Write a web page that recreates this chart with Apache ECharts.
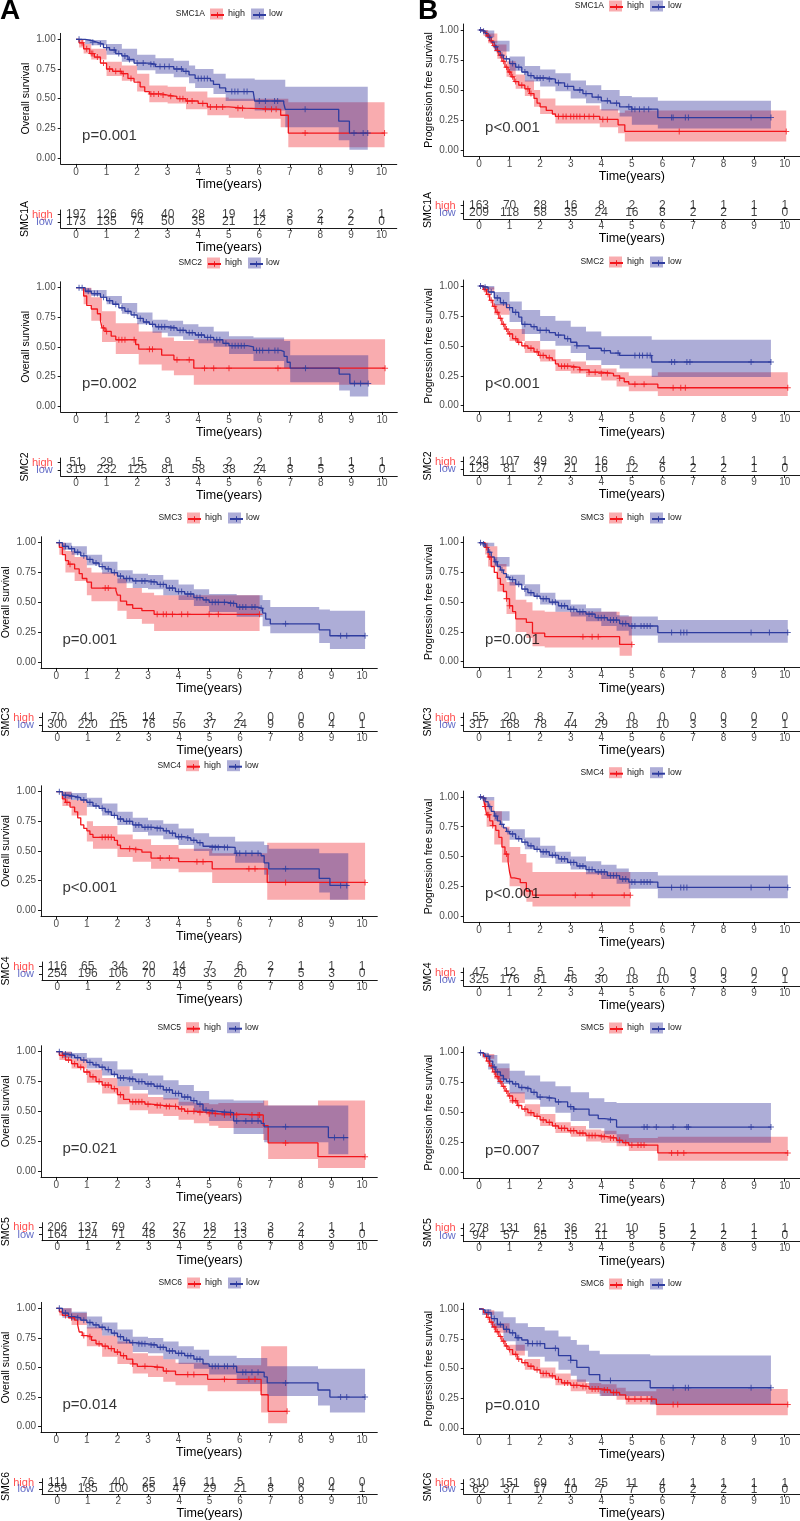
<!DOCTYPE html>
<html><head><meta charset="utf-8">
<script src="https://cdn.jsdelivr.net/npm/echarts@6/dist/echarts.min.js"></script>
<style>html,body{margin:0;padding:0;background:#fff}#c{width:800px;height:1521px}</style>
</head><body><div id="c"></div>
<script>
// ---------------- DATA ----------------
const genes = ['SMC1A','SMC2','SMC3','SMC4','SMC5','SMC6'];
const strata = ['high','low'];
const timeTicks = [0,1,2,3,4,5,6,7,8,9,10];
const survTicks = [0,0.25,0.5,0.75,1];
const pvalOS  = ['p=0.001','p=0.002','p=0.001','p<0.001','p=0.021','p=0.014'];
const pvalPFS = ['p<0.001','p<0.001','p=0.001','p<0.001','p=0.007','p=0.010'];

const riskOSHigh = [[197,126,66,40,28,19,14,3,2,2,1],[51,29,15,9,5,2,2,1,1,1,1],[70,41,25,14,7,3,2,0,0,0,0],[116,65,34,20,14,7,6,2,1,1,1],[206,137,69,42,27,18,13,3,2,1,1],[111,76,40,25,16,11,5,1,0,0,0]];
const riskOSLow  = [[173,135,74,50,35,21,12,6,4,2,0],[319,232,125,81,58,38,24,8,5,3,0],[300,220,115,76,56,37,24,9,6,4,1],[254,196,106,70,49,33,20,7,5,3,0],[164,124,71,48,36,22,13,6,4,3,0],[259,185,100,65,47,29,21,8,6,4,1]];
const riskPFSHigh = [[163,70,28,16,8,2,2,1,1,1,1],[243,107,49,30,16,6,4,1,1,1,1],[55,20,8,7,3,0,0,0,0,0,0],[47,12,5,5,2,0,0,0,0,0,0],[278,131,61,36,21,10,5,1,1,1,1],[310,151,69,41,25,11,4,1,1,1,1]];
const riskPFSLow  = [[209,118,58,35,24,16,8,2,2,1,0],[129,81,37,21,16,12,6,2,2,1,0],[317,168,78,44,29,18,10,3,3,2,1],[325,176,81,46,30,18,10,3,3,2,1],[94,57,25,15,11,8,5,2,2,1,0],[62,37,17,10,7,7,6,2,2,1,0]];

// ---- OS SMC1A
const os_smc1a_high = [[0,1],[0.1,.97],[0.25,.92],[0.45,.88],[0.6,.85],[0.8,.80],[1.0,.75],[1.2,.73],[1.5,.71],[1.7,.67],[1.9,.64],[2.1,.60],[2.25,.56],[2.4,.54],[2.8,.53],[3.0,.52],[3.3,.50],[3.6,.48],[4.0,.46],[4.3,.43],[5.0,.42],[5.5,.41],[6.7,.36],[6.95,.21],[10.1,.21]];
const os_smc1a_high_ci = [[0,1,1],[0.1,.93,1],[0.25,.88,.96],[0.5,.83,.92],[1.0,.69,.81],[1.5,.65,.78],[2.0,.56,.71],[2.4,.47,.61],[3.0,.46,.60],[3.6,.41,.56],[4.3,.36,.51],[5.0,.34,.50],[5.5,.33,.50],[6.7,.26,.50],[6.95,.09,.47],[10.1,.09,.47]];
const os_smc1a_high_cens = [0.2,0.35,0.5,0.55,0.7,0.9,1.1,1.3,1.45,1.55,1.8,2.45,2.55,2.7,2.85,3.1,3.4,3.5,3.65,3.8,4.15,4.4,4.6,4.8,5.3,5.45,6.2,6.4,6.55,7.5,10.1];
const os_smc1a_low = [[0,1],[0.3,.99],[0.5,.975],[0.7,.96],[0.9,.93],[1.1,.91],[1.3,.88],[1.5,.86],[1.7,.83],[1.9,.80],[2.4,.79],[2.6,.77],[3.2,.75],[3.5,.73],[3.7,.70],[3.9,.67],[4.4,.65],[4.5,.62],[4.7,.59],[4.9,.56],[5.8,.545],[5.85,.48],[6.8,.46],[6.85,.41],[8.6,.31],[8.95,.21],[9.55,.21]];
const os_smc1a_low_ci = [[0,1,1],[0.3,.96,1],[0.5,.95,.995],[1.0,.87,.96],[1.5,.81,.92],[2.0,.74,.87],[2.6,.71,.84],[3.2,.68,.82],[3.7,.63,.78],[3.9,.59,.75],[4.5,.54,.71],[4.9,.48,.67],[5.85,.40,.66],[6.85,.26,.60],[8.6,.15,.60],[8.95,.07,.60],[9.55,.07,.60]];
const os_smc1a_low_cens = [0.1,0.55,0.8,1.0,1.25,1.4,1.6,1.75,2.0,2.2,2.45,2.55,2.75,2.9,3.05,3.3,3.45,3.6,4.0,4.1,4.2,4.3,5.1,5.2,5.3,5.5,5.6,6.0,6.2,6.5,6.6,7.5,9.1,9.4,9.55];

// ---- PFS SMC1A
const pfs_smc1a_high = [[0,1],[0.15,.98],[0.25,.95],[0.35,.91],[0.45,.87],[0.55,.83],[0.65,.79],[0.75,.74],[0.85,.69],[0.95,.65],[1.05,.61],[1.15,.57],[1.3,.54],[1.5,.51],[1.65,.47],[1.8,.43],[1.9,.39],[2.0,.36],[2.2,.33],[2.4,.30],[2.5,.28],[3.95,.255],[4.55,.21],[4.77,.155],[10.05,.155]];
const pfs_smc1a_high_ci = [[0,1,1],[0.15,.95,1],[0.3,.89,.97],[0.6,.76,.88],[0.9,.61,.74],[1.2,.51,.63],[1.5,.45,.58],[1.8,.36,.50],[2.0,.30,.43],[2.5,.22,.37],[3.95,.19,.34],[4.55,.14,.31],[4.77,.07,.33],[10.05,.07,.33]];
const pfs_smc1a_high_cens = [0.3,0.4,0.5,0.6,0.7,0.8,0.9,1.0,1.1,1.2,1.4,1.6,1.7,2.6,2.75,2.85,3.0,3.1,3.2,3.3,3.45,3.6,3.75,4.05,4.2,6.55,10.05];
const pfs_smc1a_low = [[0,1],[0.1,.99],[0.2,.97],[0.3,.94],[0.4,.90],[0.5,.86],[0.6,.82],[0.7,.79],[0.8,.76],[1.0,.72],[1.2,.69],[1.4,.65],[1.6,.62],[1.8,.60],[2.2,.59],[2.5,.56],[2.8,.53],[3.1,.50],[3.4,.47],[3.7,.44],[4.0,.41],[4.3,.39],[4.6,.36],[5.0,.34],[5.85,.27],[9.55,.27]];
const pfs_smc1a_low_ci = [[0,1,1],[0.2,.94,.995],[0.5,.82,.91],[1.0,.66,.78],[1.5,.57,.70],[2.0,.53,.67],[2.5,.49,.64],[3.0,.43,.58],[3.5,.39,.54],[4.0,.33,.50],[4.6,.28,.45],[5.0,.21,.44],[5.85,.18,.41],[9.55,.18,.41]];
const pfs_smc1a_low_cens = [0.05,0.15,0.35,0.55,0.75,0.9,1.1,1.3,1.5,1.7,1.9,2.0,2.1,2.3,2.6,2.9,3.3,3.5,3.9,4.2,4.5,4.9,5.0,5.1,5.25,5.4,5.55,6.3,6.35,6.75,6.85,8.9,9.55];

// ---- OS SMC2
const os_smc2_high = [[0,1],[0.25,.93],[0.35,.85],[0.5,.82],[0.7,.78],[0.8,.72],[0.85,.66],[0.95,.63],[1.15,.59],[1.3,.56],[1.95,.52],[2.05,.48],[2.8,.43],[3.2,.39],[3.85,.32],[10.1,.32]];
const os_smc2_high_ci = [[0,1,1],[0.25,.86,1],[0.5,.72,.92],[0.85,.54,.80],[1.3,.44,.70],[2.05,.35,.63],[2.8,.30,.58],[3.2,.26,.55],[3.85,.18,.565],[10.1,.18,.565]];
const os_smc2_high_cens = [0.9,1.0,1.4,1.5,1.6,1.9,2.4,2.5,3.3,3.7,4.2,4.5,5.0,6.6,10.1];
const os_smc2_low = [[0,1],[0.3,.97],[0.5,.95],[0.8,.92],[1.0,.89],[1.2,.86],[1.4,.83],[1.6,.80],[1.8,.77],[2.0,.74],[2.2,.71],[2.4,.69],[2.6,.67],[3.0,.66],[3.3,.64],[3.6,.62],[3.9,.60],[4.2,.58],[4.5,.56],[4.8,.53],[5.0,.51],[5.6,.50],[5.8,.47],[6.7,.46],[6.8,.42],[6.9,.37],[7.0,.32],[8.6,.27],[8.95,.19],[9.55,.19]];
const os_smc2_low_ci = [[0,1,1],[0.3,.95,.995],[0.5,.93,.98],[1.0,.86,.93],[1.5,.78,.87],[2.0,.69,.79],[2.5,.62,.73],[3.0,.59,.72],[3.5,.56,.69],[4.0,.53,.67],[4.5,.50,.63],[5.0,.44,.59],[5.8,.38,.58],[6.8,.32,.55],[7.0,.20,.43],[8.6,.13,.43],[8.95,.08,.43],[9.55,.08,.43]];
const os_smc2_low_cens = [0.1,0.2,0.4,0.6,0.7,0.9,1.1,1.3,1.5,1.7,1.9,2.1,2.3,2.5,2.7,2.8,2.9,3.1,3.2,3.4,3.5,3.7,3.8,4.0,4.1,4.3,4.4,4.6,4.7,4.9,5.1,5.2,5.3,5.4,5.5,5.9,6.0,6.1,6.3,6.5,6.6,7.5,9.1,9.3,9.55];

// ---- PFS SMC2
const pfs_smc2_high = [[0,1],[0.15,.97],[0.25,.93],[0.35,.88],[0.45,.83],[0.55,.78],[0.65,.73],[0.75,.68],[0.85,.64],[0.95,.60],[1.1,.56],[1.25,.53],[1.4,.50],[1.6,.48],[1.8,.45],[1.95,.42],[2.2,.40],[2.4,.38],[2.5,.35],[2.6,.33],[3.0,.32],[3.3,.30],[3.6,.28],[4.0,.27],[4.4,.25],[4.6,.23],[4.75,.20],[4.9,.18],[5.85,.15],[10.1,.15]];
const pfs_smc2_high_ci = [[0,1,1],[0.15,.95,.99],[0.5,.76,.85],[1.0,.54,.64],[1.5,.44,.54],[2.0,.37,.47],[2.5,.29,.39],[3.0,.27,.37],[3.5,.24,.34],[4.0,.21,.31],[4.5,.16,.28],[4.9,.12,.25],[5.85,.08,.28],[10.1,.08,.28]];
const pfs_smc2_high_cens = [0.2,0.3,0.4,0.5,0.6,0.7,0.8,0.9,1.0,1.2,1.3,1.5,1.7,1.9,2.0,2.1,2.3,2.7,2.8,2.9,3.1,3.3,3.6,3.8,4.0,4.2,4.6,5.1,5.4,6.35,6.6,6.75,10.1];
const pfs_smc2_low = [[0,1],[0.1,.99],[0.3,.95],[0.5,.90],[0.7,.86],[0.9,.82],[1.1,.78],[1.3,.74],[1.4,.68],[1.7,.66],[1.9,.63],[2.3,.61],[2.5,.59],[2.8,.56],[3.0,.53],[3.2,.50],[3.6,.48],[4.0,.46],[4.3,.44],[4.6,.42],[5.65,.365],[9.55,.365]];
const pfs_smc2_low_ci = [[0,1,1],[0.1,.97,1],[0.5,.84,.95],[1.0,.70,.87],[1.4,.60,.80],[2.0,.54,.75],[2.5,.50,.71],[3.0,.44,.66],[3.5,.38,.62],[4.0,.34,.58],[4.6,.31,.58],[5.65,.24,.55],[9.55,.24,.55]];
const pfs_smc2_low_cens = [0.05,0.2,0.4,0.6,0.8,1.0,1.2,1.5,1.8,2.0,2.2,2.6,2.9,3.2,4.1,4.55,5.1,5.25,5.35,5.5,5.6,6.3,6.4,6.8,6.9,8.9,9.55];

// ---- OS SMC3
const os_smc3_high = [[0,1],[0.1,.96],[0.2,.90],[0.3,.85],[0.4,.82],[0.6,.78],[0.75,.74],[0.85,.70],[1.0,.67],[1.15,.62],[1.95,.60],[2.0,.56],[2.1,.51],[2.3,.48],[2.5,.45],[2.8,.43],[3.2,.40],[6.65,.40]];
const os_smc3_high_ci = [[0,1,1],[0.1,.9,1],[0.3,.75,.93],[0.6,.68,.88],[1.0,.56,.79],[1.15,.51,.75],[2.0,.43,.70],[2.3,.36,.62],[2.8,.32,.58],[3.2,.26,.56],[6.65,.26,.56]];
const os_smc3_high_cens = [0.45,1.6,1.7,3.3,3.5,3.6,3.8,4.1,4.3,5.0,5.3,6.65];
const os_smc3_low = [[0,1],[0.2,.97],[0.4,.95],[0.6,.92],[0.8,.89],[1.0,.86],[1.2,.83],[1.4,.80],[1.6,.78],[1.8,.75],[2.0,.72],[2.2,.70],[2.5,.68],[3.0,.67],[3.3,.65],[3.6,.62],[3.9,.59],[4.2,.57],[4.5,.54],[4.8,.52],[5.0,.50],[5.6,.49],[5.9,.46],[6.6,.45],[6.75,.41],[6.85,.36],[7.0,.32],[8.6,.27],[8.95,.22],[10.1,.22]];
const os_smc3_low_ci = [[0,1,1],[0.2,.94,1],[0.5,.90,.97],[1.0,.81,.90],[1.5,.74,.84],[2.0,.66,.77],[2.5,.62,.74],[3.0,.61,.73],[3.5,.56,.69],[4.0,.52,.65],[4.5,.47,.61],[5.0,.42,.57],[5.9,.38,.56],[6.75,.30,.52],[7.0,.24,.46],[8.6,.16,.44],[8.95,.11,.43],[10.1,.11,.43]];
const os_smc3_low_cens = [0.1,0.3,0.5,0.7,0.9,1.1,1.3,1.5,1.7,1.9,2.1,2.3,2.4,2.6,2.8,2.9,3.1,3.2,3.4,3.5,3.7,3.8,4.0,4.1,4.3,4.4,4.6,4.7,4.9,5.1,5.2,5.3,5.5,5.7,5.8,6.0,6.1,6.2,6.4,6.5,6.7,7.5,9.3,9.5,10.1];

// ---- PFS SMC3
const pfs_smc3_high = [[0,1],[0.2,.96],[0.3,.88],[0.4,.80],[0.5,.75],[0.6,.70],[0.7,.65],[0.8,.59],[0.9,.53],[1.0,.47],[1.1,.42],[1.2,.36],[1.55,.33],[1.75,.24],[2.15,.21],[4.6,.145],[5.0,.145]];
const pfs_smc3_high_ci = [[0,1,1],[0.2,.9,1],[0.3,.80,.97],[0.6,.59,.82],[0.9,.40,.67],[1.2,.25,.52],[1.55,.20,.50],[1.75,.13,.43],[2.15,.12,.42],[4.6,.05,.38],[5.0,.05,.38]];
const pfs_smc3_high_cens = [0.25,0.35,0.9,1.0,3.4,3.7,3.9,5.0];
const pfs_smc3_low = [[0,1],[0.1,.99],[0.2,.96],[0.3,.92],[0.4,.88],[0.5,.84],[0.6,.80],[0.7,.77],[0.8,.74],[0.9,.71],[1.0,.69],[1.2,.65],[1.4,.61],[1.6,.58],[1.8,.55],[2.0,.53],[2.3,.50],[2.6,.47],[2.9,.44],[3.2,.42],[3.5,.40],[3.8,.37],[4.2,.35],[4.6,.32],[4.9,.30],[5.85,.245],[10.1,.245]];
const pfs_smc3_low_ci = [[0,1,1],[0.1,.97,1],[0.5,.80,.88],[1.0,.64,.73],[1.5,.55,.65],[2.0,.48,.58],[2.5,.42,.52],[3.0,.38,.48],[3.5,.34,.45],[4.0,.30,.42],[4.5,.26,.39],[4.9,.22,.38],[5.85,.16,.35],[10.1,.16,.35]];
const pfs_smc3_low_cens = [0.05,0.15,0.35,0.55,0.75,0.95,1.1,1.3,1.5,1.7,1.9,2.1,2.2,2.4,2.5,2.7,2.8,3.0,3.1,3.3,3.4,3.6,3.7,3.9,4.0,4.1,4.3,4.4,4.5,4.7,4.8,5.0,5.1,5.3,5.4,5.5,5.6,6.3,6.6,6.7,6.8,8.9,9.5,10.1];

// ---- OS SMC4
const os_smc4_high = [[0,1],[0.2,.94],[0.3,.91],[0.45,.87],[0.6,.83],[0.7,.78],[0.8,.72],[0.9,.69],[1.0,.67],[1.1,.64],[1.2,.615],[1.9,.59],[2.0,.55],[2.1,.52],[2.5,.51],[2.8,.49],[3.1,.44],[4.0,.41],[5.1,.35],[6.9,.235],[10.1,.235]];
const os_smc4_high_ci = [[0,1,1],[0.2,.88,1],[0.5,.80,.93],[1.0,.58,.75],[1.2,.52,.71],[2.0,.45,.64],[2.5,.41,.60],[3.1,.35,.55],[4.0,.32,.52],[5.1,.23,.48],[6.9,.09,.57],[10.1,.09,.57]];
const os_smc4_high_cens = [0.35,1.5,1.6,1.7,1.8,2.4,2.6,3.4,3.7,4.6,4.8,6.3,6.5,7.5,10.1];
const os_smc4_low = [[0,1],[0.2,.97],[0.4,.96],[0.6,.95],[0.8,.93],[1.0,.91],[1.2,.88],[1.4,.86],[1.6,.83],[1.8,.80],[2.0,.77],[2.2,.75],[2.5,.72],[2.8,.70],[3.2,.69],[3.5,.67],[3.7,.65],[3.9,.62],[4.2,.61],[4.4,.59],[4.6,.57],[4.8,.54],[5.0,.53],[5.85,.48],[6.7,.46],[6.8,.40],[6.95,.35],[8.6,.27],[8.95,.21],[9.55,.21]];
const os_smc4_low_ci = [[0,1,1],[0.2,.94,1],[0.5,.93,.99],[1.0,.87,.95],[1.5,.80,.90],[2.0,.72,.83],[2.5,.66,.78],[3.0,.63,.76],[3.5,.60,.73],[4.0,.55,.69],[4.5,.50,.65],[5.0,.46,.62],[5.85,.40,.58],[6.8,.30,.55],[6.95,.23,.52],[8.6,.15,.48],[8.95,.09,.48],[9.55,.09,.48]];
const os_smc4_low_cens = [0.1,0.3,0.5,0.7,0.9,1.1,1.3,1.5,1.7,1.9,2.1,2.3,2.4,2.6,2.7,2.9,3.0,3.1,3.3,3.4,3.6,3.8,4.0,4.1,4.3,4.5,4.7,5.1,5.2,5.3,5.5,5.6,5.9,6.0,6.2,6.4,6.6,7.5,9.3,9.5];

// ---- PFS SMC4
const pfs_smc4_high = [[0,1],[0.15,.98],[0.2,.92],[0.25,.85],[0.35,.80],[0.45,.76],[0.55,.72],[0.65,.66],[0.75,.58],[0.85,.52],[0.95,.46],[1.0,.37],[1.05,.32],[1.15,.31],[1.35,.28],[1.55,.21],[1.75,.175],[4.95,.175]];
const pfs_smc4_high_ci = [[0,1,1],[0.15,.93,1],[0.25,.75,.97],[0.5,.60,.88],[0.75,.45,.75],[1.0,.25,.58],[1.35,.17,.52],[1.55,.12,.45],[1.75,.08,.37],[4.95,.08,.37]];
const pfs_smc4_high_cens = [0.2,0.22,0.28,0.32,0.45,0.9,3.15,3.7,4.75,4.95];
const pfs_smc4_low = [[0,1],[0.1,.99],[0.2,.96],[0.3,.92],[0.4,.88],[0.5,.84],[0.6,.80],[0.7,.77],[0.8,.74],[0.9,.71],[1.0,.69],[1.2,.65],[1.4,.62],[1.6,.59],[1.8,.56],[2.0,.54],[2.3,.51],[2.6,.48],[2.9,.45],[3.2,.42],[3.5,.39],[3.8,.37],[4.2,.34],[4.6,.31],[4.9,.285],[5.85,.24],[10.1,.24]];
const pfs_smc4_low_ci = [[0,1,1],[0.1,.97,1],[0.5,.80,.88],[1.0,.64,.73],[1.5,.56,.66],[2.0,.49,.59],[2.5,.44,.54],[3.0,.39,.50],[3.5,.35,.46],[4.0,.31,.43],[4.5,.27,.40],[4.9,.23,.37],[5.85,.15,.34],[10.1,.15,.34]];
const pfs_smc4_low_cens = [0.05,0.15,0.35,0.55,0.75,0.95,1.1,1.3,1.5,1.7,1.9,2.1,2.2,2.4,2.5,2.7,2.8,3.0,3.1,3.3,3.4,3.6,3.7,3.9,4.0,4.1,4.3,4.4,4.5,4.7,4.8,5.0,5.1,5.3,5.4,5.5,5.6,6.3,6.6,6.7,6.8,8.9,9.5,10.1];

// ---- OS SMC5
const os_smc5_high = [[0,1],[0.1,.97],[0.3,.93],[0.5,.90],[0.7,.87],[0.9,.83],[1.1,.79],[1.3,.75],[1.5,.72],[1.8,.69],[2.0,.64],[2.2,.60],[2.4,.58],[2.9,.56],[3.1,.55],[3.5,.54],[4.0,.52],[4.2,.50],[4.6,.49],[5.0,.48],[5.3,.47],[6.77,.38],[6.93,.235],[8.56,.12],[10.1,.12]];
const os_smc5_high_ci = [[0,1,1],[0.1,.93,1],[0.5,.86,.94],[1.0,.74,.85],[1.5,.65,.78],[2.0,.56,.71],[2.4,.51,.65],[3.0,.48,.62],[3.5,.46,.61],[4.0,.43,.58],[4.5,.40,.57],[5.0,.38,.56],[5.3,.36,.57],[6.77,.26,.59],[6.93,.10,.55],[8.56,.025,.59],[10.1,.025,.59]];
const os_smc5_high_cens = [0.2,0.4,0.6,0.8,1.0,1.2,1.4,1.6,1.7,1.9,2.1,2.5,2.6,2.7,2.8,3.0,3.3,3.4,3.6,3.7,3.9,4.1,4.3,4.5,4.7,5.0,5.2,5.5,5.7,5.9,6.4,6.6,6.65,7.5,10.1];
const os_smc5_low = [[0,1],[0.2,.98],[0.4,.97],[0.6,.95],[0.8,.93],[1.0,.91],[1.2,.89],[1.4,.87],[1.6,.85],[1.8,.81],[2.0,.78],[2.3,.77],[2.6,.75],[2.9,.73],[3.2,.71],[3.5,.68],[3.8,.65],[4.1,.62],[4.4,.59],[4.6,.56],[4.8,.51],[5.0,.50],[5.3,.49],[5.8,.42],[6.7,.40],[6.8,.37],[8.9,.28],[9.55,.28]];
const os_smc5_low_ci = [[0,1,1],[0.2,.95,1],[0.5,.94,.99],[1.0,.86,.95],[1.5,.80,.92],[2.0,.71,.85],[2.5,.68,.82],[3.0,.64,.80],[3.5,.60,.76],[4.0,.55,.72],[4.5,.49,.67],[5.0,.42,.60],[5.8,.31,.59],[6.8,.24,.55],[8.9,.14,.55],[9.55,.14,.55]];
const os_smc5_low_cens = [0.1,0.3,0.5,0.7,0.9,1.1,1.3,1.5,1.7,1.9,2.1,2.2,2.4,2.5,2.7,2.8,3.0,3.1,3.3,3.4,3.6,3.7,3.9,4.0,4.2,4.3,4.5,4.7,4.9,5.1,5.5,5.7,5.9,6.2,6.4,6.6,7.5,9.1,9.4];

// ---- PFS SMC5
const pfs_smc5_high = [[0,1],[0.15,.97],[0.25,.93],[0.35,.89],[0.45,.84],[0.55,.80],[0.65,.76],[0.75,.72],[0.85,.68],[0.95,.64],[1.1,.60],[1.25,.56],[1.4,.53],[1.6,.50],[1.8,.47],[2.0,.44],[2.2,.42],[2.4,.39],[2.6,.37],[2.9,.35],[3.2,.33],[3.5,.31],[3.9,.30],[4.2,.29],[4.5,.27],[4.7,.25],[4.9,.23],[5.85,.165],[10.1,.165]];
const pfs_smc5_high_ci = [[0,1,1],[0.15,.95,.99],[0.5,.78,.87],[1.0,.58,.67],[1.5,.47,.57],[2.0,.39,.49],[2.5,.33,.42],[3.0,.30,.39],[3.5,.26,.36],[4.0,.25,.35],[4.5,.22,.32],[4.9,.18,.29],[5.85,.10,.30],[10.1,.10,.30]];
const pfs_smc5_high_cens = [0.3,0.4,0.5,0.6,0.7,0.8,0.9,1.0,1.1,1.2,1.3,1.5,1.7,1.9,2.1,2.3,2.5,2.7,2.8,3.0,3.1,3.3,3.4,3.6,3.7,3.8,4.0,4.1,4.3,4.4,4.6,4.8,5.0,5.2,5.3,5.4,6.3,6.5,6.7,10.1];
const pfs_smc5_low = [[0,1],[0.1,.99],[0.2,.97],[0.35,.93],[0.45,.88],[0.55,.84],[0.7,.81],[0.8,.78],[0.9,.76],[1.1,.74],[1.3,.71],[1.5,.70],[1.7,.67],[1.9,.63],[2.2,.62],[2.5,.59],[2.9,.55],[3.1,.53],[3.6,.48],[3.9,.45],[4.1,.44],[4.5,.38],[9.55,.38]];
const pfs_smc5_low_ci = [[0,1,1],[0.1,.96,1],[0.3,.86,.98],[0.6,.74,.91],[1.0,.66,.85],[1.5,.61,.81],[2.0,.55,.76],[2.5,.50,.72],[3.0,.43,.67],[3.6,.37,.62],[4.1,.32,.59],[4.5,.25,.58],[9.55,.25,.58]];
const pfs_smc5_low_cens = [0.05,0.3,0.5,0.6,0.8,1.0,1.2,1.4,1.6,1.8,2.0,2.3,2.6,3.0,3.1,4.3,5.4,5.5,5.8,6.35,6.8,6.85,8.9,9.55];

// ---- OS SMC6
const os_smc6_high = [[0,1],[0.1,.97],[0.2,.94],[0.4,.92],[0.6,.90],[0.7,.86],[0.75,.80],[0.85,.77],[1.0,.76],[1.15,.73],[1.3,.70],[1.5,.68],[1.7,.66],[1.9,.63],[2.1,.60],[2.3,.57],[2.5,.53],[2.65,.51],[3.1,.50],[3.5,.47],[3.9,.44],[4.95,.40],[6.7,.27],[6.93,.13],[7.55,.13]];
const os_smc6_high_ci = [[0,1,1],[0.1,.94,1],[0.5,.86,.96],[1.0,.68,.84],[1.5,.59,.77],[2.0,.53,.72],[2.5,.45,.62],[3.0,.42,.60],[3.5,.38,.57],[3.9,.35,.54],[4.95,.30,.52],[6.7,.12,.68],[6.93,.03,.68],[7.55,.03,.68]];
const os_smc6_high_cens = [0.3,0.5,0.9,1.1,1.4,1.6,1.8,2.0,2.2,2.5,2.9,3.3,3.6,4.3,4.5,5.5,6.3,6.5,7.55];
const os_smc6_low = [[0,1],[0.2,.96],[0.4,.93],[0.6,.92],[0.8,.90],[1.0,.88],[1.2,.86],[1.4,.84],[1.6,.82],[1.8,.79],[2.0,.76],[2.2,.73],[2.4,.71],[2.6,.70],[3.0,.69],[3.3,.67],[3.6,.64],[3.9,.62],[4.2,.60],[4.5,.57],[4.8,.53],[5.0,.51],[5.9,.46],[6.8,.42],[6.9,.37],[8.56,.31],[8.95,.25],[10.1,.25]];
const os_smc6_low_ci = [[0,1,1],[0.2,.92,1],[0.5,.90,.97],[1.0,.83,.93],[1.5,.77,.88],[2.0,.70,.82],[2.5,.63,.76],[3.0,.62,.75],[3.5,.57,.72],[4.0,.53,.68],[4.5,.49,.65],[5.0,.44,.60],[5.9,.36,.58],[6.9,.26,.51],[8.56,.18,.49],[8.95,.12,.49],[10.1,.12,.49]];
const os_smc6_low_cens = [0.1,0.3,0.5,0.7,0.9,1.1,1.3,1.5,1.7,1.9,2.1,2.3,2.5,2.7,2.8,2.9,3.1,3.2,3.4,3.5,3.7,3.8,4.0,4.1,4.3,4.4,4.6,4.7,5.1,5.2,5.3,5.5,5.6,5.8,6.1,6.2,6.4,6.6,7.5,9.3,9.5,10.1];

// ---- PFS SMC6
const pfs_smc6_high = [[0,1],[0.15,.97],[0.25,.93],[0.35,.89],[0.45,.85],[0.55,.81],[0.65,.77],[0.75,.73],[0.85,.69],[0.95,.66],[1.1,.62],[1.25,.58],[1.4,.55],[1.6,.52],[1.8,.49],[2.0,.46],[2.3,.44],[2.5,.41],[2.7,.38],[3.0,.36],[3.3,.35],[3.6,.33],[4.0,.32],[4.3,.30],[4.6,.28],[4.8,.245],[5.8,.20],[10.1,.20]];
const pfs_smc6_high_ci = [[0,1,1],[0.15,.95,.99],[0.5,.80,.88],[1.0,.61,.70],[1.5,.49,.58],[2.0,.42,.51],[2.5,.36,.46],[3.0,.31,.41],[3.5,.29,.38],[4.0,.27,.37],[4.5,.24,.34],[4.8,.20,.31],[5.8,.11,.33],[10.1,.11,.33]];
const pfs_smc6_high_cens = [0.3,0.4,0.5,0.6,0.7,0.8,0.9,1.0,1.2,1.3,1.5,1.7,1.9,2.1,2.2,2.4,2.6,2.8,2.9,3.1,3.2,3.4,3.5,3.7,3.8,3.9,4.1,4.2,4.4,4.5,4.9,5.1,5.3,5.5,5.65,6.35,6.5,10.1];
const pfs_smc6_low = [[0,1],[0.1,.99],[0.2,.97],[0.4,.92],[0.6,.87],[0.8,.83],[1.0,.80],[1.2,.76],[1.4,.74],[1.6,.71],[2.15,.67],[2.6,.61],[3.0,.57],[3.2,.51],[3.6,.45],[3.95,.40],[5.6,.34],[9.55,.34]];
const pfs_smc6_low_ci = [[0,1,1],[0.1,.95,1],[0.4,.84,.98],[0.8,.73,.93],[1.2,.65,.88],[1.6,.60,.85],[2.15,.56,.82],[2.6,.49,.77],[3.0,.44,.74],[3.2,.39,.70],[3.6,.33,.65],[3.95,.27,.62],[5.6,.20,.61],[9.55,.20,.61]];
const pfs_smc6_low_cens = [0.3,0.5,0.7,0.9,1.1,1.25,1.3,1.6,1.75,1.9,2.0,2.5,3.0,4.3,6.35,6.75,6.85,8.9,9.55];

// ---------------- ASSEMBLY ----------------
const panels = [
  {kind:'os', g:0, high:os_smc1a_high, highCI:os_smc1a_high_ci, highC:os_smc1a_high_cens, low:os_smc1a_low, lowCI:os_smc1a_low_ci, lowC:os_smc1a_low_cens},
  {kind:'os', g:1, high:os_smc2_high, highCI:os_smc2_high_ci, highC:os_smc2_high_cens, low:os_smc2_low, lowCI:os_smc2_low_ci, lowC:os_smc2_low_cens},
  {kind:'os', g:2, high:os_smc3_high, highCI:os_smc3_high_ci, highC:os_smc3_high_cens, low:os_smc3_low, lowCI:os_smc3_low_ci, lowC:os_smc3_low_cens},
  {kind:'os', g:3, high:os_smc4_high, highCI:os_smc4_high_ci, highC:os_smc4_high_cens, low:os_smc4_low, lowCI:os_smc4_low_ci, lowC:os_smc4_low_cens},
  {kind:'os', g:4, high:os_smc5_high, highCI:os_smc5_high_ci, highC:os_smc5_high_cens, low:os_smc5_low, lowCI:os_smc5_low_ci, lowC:os_smc5_low_cens},
  {kind:'os', g:5, high:os_smc6_high, highCI:os_smc6_high_ci, highC:os_smc6_high_cens, low:os_smc6_low, lowCI:os_smc6_low_ci, lowC:os_smc6_low_cens},
  {kind:'pfs', g:0, high:pfs_smc1a_high, highCI:pfs_smc1a_high_ci, highC:pfs_smc1a_high_cens, low:pfs_smc1a_low, lowCI:pfs_smc1a_low_ci, lowC:pfs_smc1a_low_cens},
  {kind:'pfs', g:1, high:pfs_smc2_high, highCI:pfs_smc2_high_ci, highC:pfs_smc2_high_cens, low:pfs_smc2_low, lowCI:pfs_smc2_low_ci, lowC:pfs_smc2_low_cens},
  {kind:'pfs', g:2, high:pfs_smc3_high, highCI:pfs_smc3_high_ci, highC:pfs_smc3_high_cens, low:pfs_smc3_low, lowCI:pfs_smc3_low_ci, lowC:pfs_smc3_low_cens},
  {kind:'pfs', g:3, high:pfs_smc4_high, highCI:pfs_smc4_high_ci, highC:pfs_smc4_high_cens, low:pfs_smc4_low, lowCI:pfs_smc4_low_ci, lowC:pfs_smc4_low_cens},
  {kind:'pfs', g:4, high:pfs_smc5_high, highCI:pfs_smc5_high_ci, highC:pfs_smc5_high_cens, low:pfs_smc5_low, lowCI:pfs_smc5_low_ci, lowC:pfs_smc5_low_cens},
  {kind:'pfs', g:5, high:pfs_smc6_high, highCI:pfs_smc6_high_ci, highC:pfs_smc6_high_cens, low:pfs_smc6_low, lowCI:pfs_smc6_low_ci, lowC:pfs_smc6_low_cens}
];

// layout (pixels): x0 = pixel of t=0, ppu = px per year, y1/y0 = pixel of survival 1/0,
// risk = y of risk-table axis line, cy = legend centre y, key = x of first legend key
const layout = [
  {x0:76, ppu:30.55, y1:39.3,   y0:158,    risk:228,    cy:14,     key:210},
  {x0:76, ppu:30.6,  y1:287.7,  y0:406,    risk:476,    cy:263,    key:207},
  {x0:56, ppu:30.6,  y1:542.7,  y0:662,    risk:731,    cy:518,    key:187},
  {x0:56, ppu:30.6,  y1:791.7,  y0:910.3,  risk:980,    cy:765.7,  key:186},
  {x0:56, ppu:30.6,  y1:1051.7, y0:1171,   risk:1240.7, cy:1027.7, key:186},
  {x0:56, ppu:30.6,  y1:1308.3, y0:1426.7, risk:1496.7, cy:1283,   key:187},
  {x0:479, ppu:30.6, y1:30,     y0:150,    risk:219,    cy:6,      key:609},
  {x0:479, ppu:30.6, y1:286,    y0:405.7,  risk:475,    cy:262,    key:609},
  {x0:479, ppu:30.6, y1:542.7,  y0:661.7,  risk:731,    cy:518,    key:609},
  {x0:479, ppu:30.6, y1:797,    y0:916,    risk:986,    cy:772.7,  key:609},
  {x0:479, ppu:30.6, y1:1052.7, y0:1172.7, risk:1241.7, cy:1028,   key:609},
  {x0:479, ppu:30.6, y1:1309,   y0:1428.3, risk:1497.7, cy:1284,   key:609}
];

const RED = '#F2161C', BLUE = '#2E3C9F';
const RED_BAND = 'rgba(238,36,44,0.38)', BLUE_BAND = 'rgba(40,40,150,0.38)';
const RED_TXT = '#FF1F1F', BLUE_TXT = '#3A45B8';
const FONT = '"Liberation Sans", Arial, Helvetica, sans-serif';
const CROSS = 'path://M-0.17,-1H0.17V-0.17H1V0.17H0.17V1H-0.17V0.17H-1V-0.17H-0.17Z';
const AXC = '#000', TICKC = '#4D4D4D';
const XMIN = -0.5, XMAX = 10.5, YMIN = -0.05, YMAX = 1.05;

function survAt(rows, t) {
  let s = rows[0][1];
  for (const r of rows) { if (r[0] <= t + 1e-9) s = r[1]; else break; }
  return s;
}

const option = {
  animation: false, backgroundColor: '#fff',
  textStyle: {fontFamily: FONT},
  grid: [], xAxis: [], yAxis: [], series: [], legend: [],
  title: [
    {text: 'A', left: 0, top: -3, padding: 0, textStyle: {fontSize: 28, fontWeight: 'bold', color: '#000', fontFamily: FONT}},
    {text: 'B', left: 418, top: -3, padding: 0, textStyle: {fontSize: 28, fontWeight: 'bold', color: '#000', fontFamily: FONT}}
  ]
};

function bandSeries(ci, color, ai) {
  return {
    type: 'custom', xAxisIndex: ai, yAxisIndex: ai, data: ci, silent: true, z: 1,
    encode: {x: 0, y: [1, 2]},
    renderItem: function (params, api) {
      if (params.dataIndex !== 0) return null;
      const up = [], dn = [];
      for (let i = 0; i < ci.length - 1; i++) {
        const t0 = ci[i][0], t1 = ci[i + 1][0];
        up.push(api.coord([t0, ci[i][2]]), api.coord([t1, ci[i][2]]));
        dn.push(api.coord([t0, ci[i][1]]), api.coord([t1, ci[i][1]]));
      }
      return {type: 'polygon', shape: {points: up.concat(dn.reverse())}, style: {fill: color}};
    }
  };
}

panels.forEach(function (p, k) {
  const L = layout[k];
  const gene = genes[p.g];
  const pu = L.y0 - L.y1;
  const left = L.x0 + XMIN * L.ppu, width = (XMAX - XMIN) * L.ppu;
  const km = option.grid.length;
  option.grid.push({left: left, width: width, top: L.y1 - (YMAX - 1) * pu, height: (YMAX - YMIN) * pu});
  const rk = km + 1;
  option.grid.push({left: left, width: width, top: L.risk - 18, height: 18});

  const xAx = function (gi, margin) {
    return {
      gridIndex: gi, type: 'value', min: XMIN, max: XMAX,
      axisLine: {show: true, onZero: false, lineStyle: {color: AXC, width: 0.9}},
      axisTick: {show: true, length: 3, customValues: timeTicks, lineStyle: {color: AXC, width: 0.9}},
      axisLabel: {show: true, customValues: timeTicks, margin: margin, fontSize: 10, color: TICKC, fontFamily: FONT,
        showMinLabel: true, showMaxLabel: true},
      splitLine: {show: false},
      name: 'Time(years)', nameLocation: 'middle', nameGap: 12,
      nameTextStyle: {fontSize: 12.5, color: '#000', fontFamily: FONT}
    };
  };
  option.xAxis.push(xAx(km, 3));
  option.xAxis.push(xAx(rk, 2));

  option.yAxis.push({
    gridIndex: km, type: 'value', min: YMIN, max: YMAX,
    axisLine: {show: true, onZero: false, lineStyle: {color: AXC, width: 0.9}},
    axisTick: {show: true, length: 3, customValues: survTicks, lineStyle: {color: AXC, width: 0.9}},
    axisLabel: {show: true, customValues: survTicks, margin: 5, fontSize: 10, color: TICKC, fontFamily: FONT,
      showMinLabel: true, showMaxLabel: true,
      formatter: function (v) { return Number(v).toFixed(2); }},
    splitLine: {show: false},
    name: p.kind === 'os' ? 'Overall survival' : 'Progression free survival',
    nameLocation: 'middle', nameRotate: 90, nameGap: 29,
    nameTextStyle: {fontSize: 10.5, color: '#000', fontFamily: FONT}
  });
  option.yAxis.push({
    gridIndex: rk, type: 'value', min: 0.2, max: 2.6,
    axisLine: {show: true, onZero: false, lineStyle: {color: AXC, width: 0.9}},
    axisTick: {show: true, length: 3, customValues: [1, 2], lineStyle: {color: AXC, width: 0.9}},
    axisLabel: {show: false},
    splitLine: {show: false},
    name: gene, nameLocation: 'middle', nameRotate: 90, nameGap: 30,
    nameTextStyle: {fontSize: 10.5, color: '#000', fontFamily: FONT}
  });

  // bands
  option.series.push(bandSeries(p.highCI, RED_BAND, km));
  option.series.push(bandSeries(p.lowCI, BLUE_BAND, km));
  // curves
  [['high', p.high, p.highC, RED], ['low', p.low, p.lowC, BLUE]].forEach(function (c) {
    option.series.push({
      type: 'line', name: c[0], xAxisIndex: km, yAxisIndex: km, data: c[1], step: 'end',
      showSymbol: false, symbol: CROSS, symbolSize: 6, silent: true, z: 3,
      lineStyle: {color: c[3], width: 1.3}, itemStyle: {color: c[3]}
    });
    option.series.push({
      type: 'scatter', xAxisIndex: km, yAxisIndex: km, silent: true, z: 4,
      data: c[2].map(function (t) { return [t, survAt(c[1], t)]; }),
      symbol: CROSS, symbolSize: 6, itemStyle: {color: c[3]}
    });
  });
  // p-value
  option.series.push({
    type: 'scatter', xAxisIndex: km, yAxisIndex: km, silent: true, z: 5,
    data: [[0.2, 0.185]], symbolSize: 1, itemStyle: {color: 'rgba(0,0,0,0)'},
    label: {show: true, position: 'inside', align: 'left', verticalAlign: 'middle',
      formatter: (p.kind === 'os' ? pvalOS : pvalPFS)[p.g], fontSize: 15, color: '#000', fontFamily: FONT}
  });
  // risk table
  const rh = (p.kind === 'os' ? riskOSHigh : riskPFSHigh)[p.g];
  const rl = (p.kind === 'os' ? riskOSLow : riskPFSLow)[p.g];
  [[2, rh], [1, rl]].forEach(function (r) {
    option.series.push({
      type: 'scatter', xAxisIndex: rk, yAxisIndex: rk, silent: true,
      data: timeTicks.map(function (t, i) { return [t, r[0], r[1][i]]; }),
      symbolSize: 1, itemStyle: {color: 'rgba(0,0,0,0)'},
      labelLayout: {hideOverlap: false},
      label: {show: true, position: 'inside', formatter: function (q) { return String(q.value[2]); },
        fontSize: 12, color: '#111', fontFamily: FONT}
    });
  });
  // risk table row names (strata), placed at the left edge of the table
  option.series.push({
    type: 'scatter', xAxisIndex: rk, yAxisIndex: rk, silent: true, clip: false,
    data: [
      {value: [XMIN, 2], name: strata[0], label: {color: RED_TXT}},
      {value: [XMIN, 1], name: strata[1], label: {color: BLUE_TXT}}
    ],
    symbolSize: 1, itemStyle: {color: 'rgba(0,0,0,0)'},
    labelLayout: {hideOverlap: false},
    label: {show: true, position: 'left', distance: 7.5, formatter: '{b}', fontSize: 11, fontFamily: FONT}
  });

  // legend: title, band key, line key
  option.title.push({text: gene, right: 800 - (L.key - 5), top: L.cy - 5, padding: 0,
    textStyle: {fontSize: 8.5, fontWeight: 'normal', color: '#222', lineHeight: 10, fontFamily: FONT}});
  option.legend.push({
    left: L.key, top: L.cy - 5.5, padding: 0, itemWidth: 13, itemHeight: 11, itemGap: 6, selectedMode: false,
    data: [{name: 'high', icon: 'rect', itemStyle: {color: RED_BAND, borderWidth: 0}},
           {name: 'low', icon: 'rect', itemStyle: {color: BLUE_BAND, borderWidth: 0}}],
    textStyle: {fontSize: 9, color: '#222', lineHeight: 10, fontFamily: FONT}
  });
  option.legend.push({
    left: L.key, top: L.cy - 3.5, padding: 0, itemWidth: 13, itemHeight: 7, itemGap: 6, selectedMode: false,
    data: ['high', 'low'], z: 5,
    textStyle: {fontSize: 9, color: 'rgba(0,0,0,0)', lineHeight: 7, fontFamily: FONT}
  });
});

const chart = echarts.init(document.getElementById('c'), null, {renderer: 'canvas', width: 800, height: 1521});
chart.setOption(option);
</script>
</body></html>
